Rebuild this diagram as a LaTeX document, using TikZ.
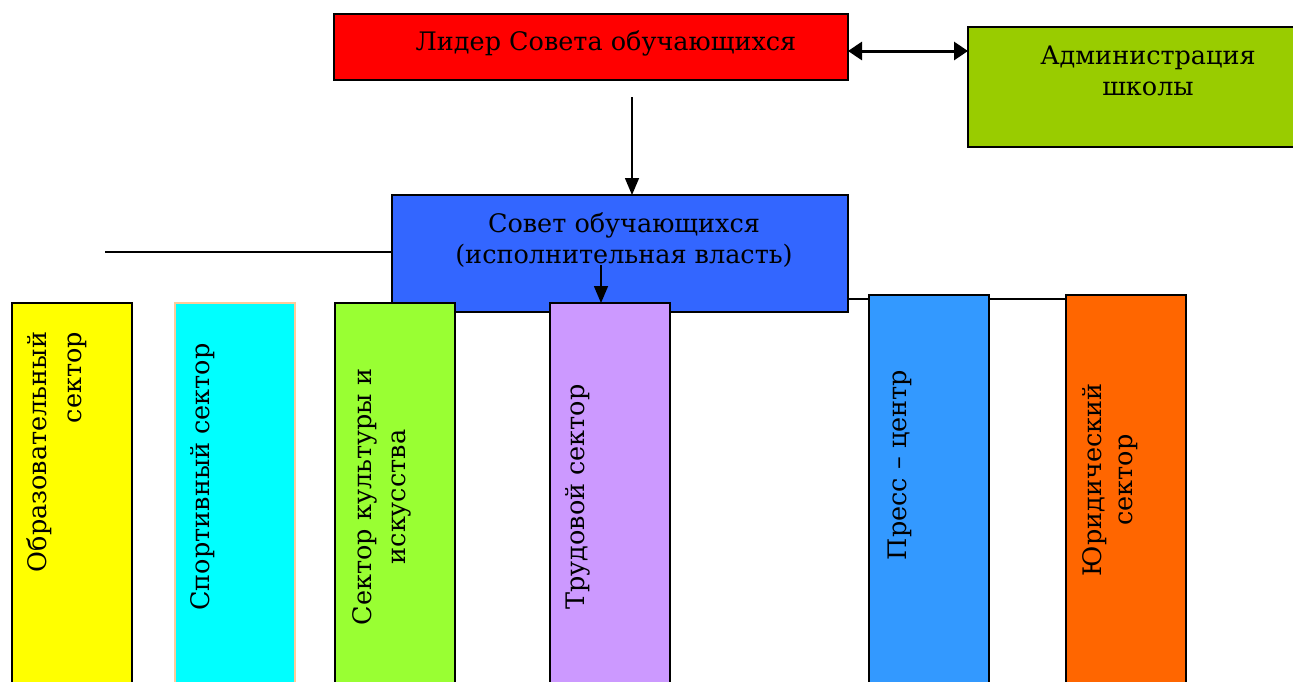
\documentclass[tikz,border=0pt]{standalone}
\usepackage{fontspec}
\setmainfont{DejaVu Serif}
\usetikzlibrary{arrows.meta}
\tikzstyle{pixelGrid} = [x = 1pt, y = -1pt]
\definecolor{leaderColor}{HTML}{FF0000}
\definecolor{adminColor}{HTML}{99CC00}
\definecolor{councilColor}{HTML}{3366FF}
\definecolor{studyColor}{HTML}{FFFF00}
\definecolor{sportColor}{HTML}{00FFFF}
\definecolor{sportBorder}{HTML}{FFCC99}
\definecolor{cultureColor}{HTML}{99FF33}
\definecolor{laborColor}{HTML}{CC99FF}
\definecolor{pressColor}{HTML}{3399FF}
\definecolor{lawColor}{HTML}{FF6600}
\tikzstyle{boxStyle} = [draw=black, line width=1.6pt, anchor=north west, inner sep=0pt, outer sep=0pt]
\tikzstyle{boxText} = [font=\fontsize{25.5}{31}\selectfont, align=center, inner sep=0pt]
\tikzstyle{sectorText} = [boxText, rotate=90]
\tikzstyle{linkLine} = [line width=1.5pt]
\tikzstyle{linkArrow} = [linkLine, -{Triangle[length=17pt, width=14pt]}]
\tikzstyle{twoWayArrow} = [line width=3pt, {Triangle[length=14pt, width=18pt]}-{Triangle[length=14pt, width=18pt]}]
\newcommand{\plainBox}[6]{\node [boxStyle, fill=#6, minimum width=#4pt, minimum height=#5pt] (#1) at (#2, #3) {};}
\newcommand{\sectorBox}[3]{\plainBox{#1}{#2}{#3}{120}{400}{#1Color}}
\newcommand{\sectorLabel}[5]{\node [sectorText, align=#4] (#1Label) at (#2, #3) {#5};}

\begin{document}
\begin{tikzpicture}[pixelGrid]
  \clip (0,0) rectangle (1293,681);
  % top row
  \plainBox{leader}{334}{14}{514}{66}{leaderColor}
  \plainBox{admin}{968}{27}{340}{120}{adminColor}
  \node [boxText] (leaderLabel) at (606, 43) {Лидер Совета обучающихся};
  \node [boxText] (adminLabel) at (1148, 71) {Администрация\\школы};

  % council
  \plainBox{council}{392}{195}{456}{117}{councilColor}
  \node [boxText] (councilLabel) at (624, 240) {Совет обучающихся\\(исполнительная власть)};

  % sectors
  \sectorBox{study}{12}{303}
  \node [boxStyle, fill=sportColor, draw=sportBorder, minimum width=120pt, minimum height=400pt] (sport) at (175, 303) {};
  \sectorBox{culture}{335}{303}
  \sectorBox{labor}{550}{303}
  \sectorBox{press}{869}{295}
  \sectorBox{law}{1066}{295}
  \sectorLabel{study}{57}{452}{right}{Образовательный\\[4pt]сектор}
  \sectorLabel{sport}{203}{477}{center}{Спортивный сектор}
  \sectorLabel{culture}{382}{497}{center}{Сектор культуры и\\[3pt]искусства}
  \sectorLabel{labor}{578}{497}{center}{Трудовой сектор}
  \sectorLabel{press}{900}{465}{center}{Пресс – центр}
  \sectorLabel{law}{1110}{480}{center}{Юридический\\сектор}

  % links
  \coordinate (leftEnd) at (105, 252);
  \coordinate (leaderDrop) at (632, 97);
  \coordinate (laborDrop) at (601, 265);
  \coordinate (rightJoin) at ([yshift=-4pt]law.north west);
  \draw [twoWayArrow] ([yshift=-4pt]leader.east) -- ([yshift=-4pt]leader.east -| admin.west);
  \draw [linkArrow] (leaderDrop) -- (leaderDrop |- council.north);
  \draw [linkLine] (leftEnd) -- (leftEnd -| council.west);
  \draw [linkLine] (rightJoin -| council.east) -- (rightJoin -| press.west);
  \draw [linkLine] (rightJoin -| press.east) -- (rightJoin);
  \draw [linkArrow] (laborDrop) -- (laborDrop |- labor.north);
\end{tikzpicture}
\end{document}
